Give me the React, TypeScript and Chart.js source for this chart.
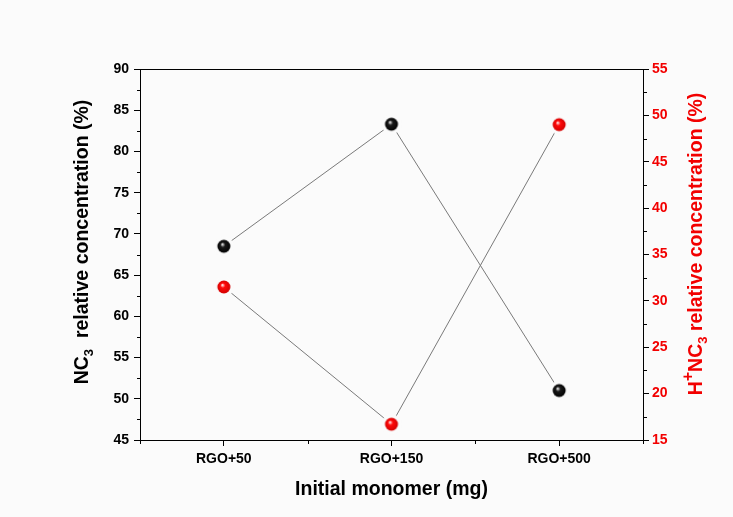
import React, { useEffect, useRef } from "react";
import { Chart, registerables } from "chart.js";

Chart.register(...registerables);

// Samples and measured relative concentrations
const categories = ["RGO+50", "RGO+150", "RGO+500"];
const nc3Values = [68.5, 83.3, 51.0];
const hnc3Values = [31.5, 16.7, 49.0];

// Axis ranges and tick steps
const leftRange = [45, 90];
const rightRange = [15, 55];
const majorStep = 5;

const FONT = "'Liberation Sans', Arial, Helvetica, sans-serif";
const BG = "#fbfbfb";
const RED = "#f20000";
const TITLE_SIZE = 19.5;

// Glossy sphere marker with a halo that matches the background
function makeSphere(base: string, mid: string, hi: string): HTMLCanvasElement {
  const size = 22;
  const c = document.createElement("canvas");
  c.width = size;
  c.height = size;
  const g = c.getContext("2d")!;
  const cx = size / 2;
  const cy = size / 2;
  g.fillStyle = BG;
  g.beginPath();
  g.arc(cx, cy, 10, 0, Math.PI * 2);
  g.fill();
  const grad = g.createRadialGradient(cx - 1.5, cy - 2, 0.5, cx, cy, 6.8);
  grad.addColorStop(0, hi);
  grad.addColorStop(0.3, mid);
  grad.addColorStop(1, base);
  g.fillStyle = grad;
  g.beginPath();
  g.arc(cx, cy, 6.5, 0, Math.PI * 2);
  g.fill();
  return c;
}

type Seg = { t: string; size: number; shift: number };

function drawRotatedRich(ctx: CanvasRenderingContext2D, segs: Seg[], cx: number, cy: number, color: string) {
  ctx.save();
  ctx.translate(cx, cy);
  ctx.rotate(-Math.PI / 2);
  ctx.fillStyle = color;
  ctx.textBaseline = "alphabetic";
  ctx.textAlign = "left";
  const widths = segs.map((s) => {
    ctx.font = `bold ${s.size}px ${FONT}`;
    return ctx.measureText(s.t).width;
  });
  const total = widths.reduce((a, b) => a + b, 0);
  let x = -total / 2;
  segs.forEach((s, i) => {
    ctx.font = `bold ${s.size}px ${FONT}`;
    ctx.fillText(s.t, x, 7 + s.shift);
    x += widths[i];
  });
  ctx.restore();
}

const decorPlugin = {
  id: "decor",
  beforeDraw(chart: any) {
    const ctx = chart.ctx;
    ctx.save();
    ctx.fillStyle = BG;
    ctx.fillRect(0, 0, chart.width, chart.height);
    ctx.restore();
  },
  afterDraw(chart: any) {
    const ctx: CanvasRenderingContext2D = chart.ctx;
    const area = chart.chartArea;
    const y = chart.scales.y;
    const y1 = chart.scales.y1;
    const x = chart.scales.x;
    ctx.save();
    ctx.strokeStyle = "#000";
    ctx.lineWidth = 1;
    // frame top
    ctx.beginPath();
    ctx.moveTo(Math.round(area.left), Math.round(area.top) + 0.5);
    ctx.lineTo(Math.round(area.right) + 1, Math.round(area.top) + 0.5);
    ctx.stroke();
    // minor ticks
    ctx.beginPath();
    for (let v = leftRange[0] + majorStep / 2; v < leftRange[1]; v += majorStep) {
      const p = Math.round(y.getPixelForValue(v)) + 0.5;
      ctx.moveTo(area.left - 3, p);
      ctx.lineTo(area.left, p);
    }
    for (let v = rightRange[0] + majorStep / 2; v < rightRange[1]; v += majorStep) {
      const p = Math.round(y1.getPixelForValue(v)) + 0.5;
      ctx.moveTo(area.right, p);
      ctx.lineTo(area.right + 4, p);
    }
    for (let i = -0.5; i <= categories.length - 0.5; i += 1) {
      const p = Math.round(x.getPixelForValue(i)) + 0.5;
      ctx.moveTo(p, area.bottom);
      ctx.lineTo(p, area.bottom + 4);
    }
    ctx.stroke();
    ctx.restore();

    // axis titles
    ctx.save();
    ctx.fillStyle = "#000";
    ctx.font = `bold ${TITLE_SIZE}px ${FONT}`;
    ctx.textAlign = "center";
    ctx.textBaseline = "middle";
    ctx.fillText("Initial monomer (mg)", (area.left + area.right) / 2, 490);
    ctx.restore();

    drawRotatedRich(
      ctx,
      [
        { t: "NC", size: TITLE_SIZE, shift: 0 },
        { t: "3", size: 13, shift: 5 },
        { t: "  relative concentration (%)", size: TITLE_SIZE, shift: 0 },
      ],
      81,
      242,
      "#000"
    );
    drawRotatedRich(
      ctx,
      [
        { t: "H", size: TITLE_SIZE, shift: 0 },
        { t: "+", size: 16, shift: -9 },
        { t: "NC", size: TITLE_SIZE, shift: 0 },
        { t: "3", size: 13, shift: 5 },
        { t: " relative concentration (%)", size: TITLE_SIZE, shift: 0 },
      ],
      695,
      244,
      RED
    );
  },
};

export default function App() {
  const ref = useRef<HTMLCanvasElement | null>(null);

  useEffect(() => {
    if (!ref.current) return;
    const blackBall = makeSphere("#000000", "#1a1a1a", "#d8d8d8");
    const redBall = makeSphere("#d00000", "#ff0a0a", "#ffd6d6");

    const tickFont = { family: FONT, size: 14, weight: "bold" as const };

    const chart = new Chart(ref.current, {
      type: "line",
      data: {
        labels: categories,
        datasets: [
          {
            label: "NC3",
            data: nc3Values,
            yAxisID: "y",
            borderColor: "#7a7a7a",
            borderWidth: 1,
            pointStyle: blackBall,
            tension: 0,
            fill: false,
          },
          {
            label: "H+NC3",
            data: hnc3Values,
            yAxisID: "y1",
            borderColor: "#7a7a7a",
            borderWidth: 1,
            pointStyle: redBall,
            tension: 0,
            fill: false,
          },
        ],
      },
      options: {
        responsive: false,
        animation: false,
        devicePixelRatio: 1,
        events: [],
        layout: { padding: { top: 69, left: 0, right: 0, bottom: 0 } },
        plugins: { legend: { display: false }, tooltip: { enabled: false }, title: { display: false } },
        scales: {
          x: {
            type: "category",
            offset: true,
            grid: { offset: false, drawOnChartArea: false, drawTicks: true, tickLength: 6, color: "#000" },
            border: { display: true, color: "#000", width: 1 },
            ticks: { color: "#000", font: tickFont, padding: 5, maxRotation: 0, autoSkip: false },
            afterFit: (s: any) => {
              s.height = 77;
            },
          },
          y: {
            type: "linear",
            position: "left",
            min: leftRange[0],
            max: leftRange[1],
            ticks: { stepSize: majorStep, color: "#000", font: tickFont, padding: 5 },
            grid: { drawOnChartArea: false, drawTicks: true, tickLength: 6, color: "#000" },
            border: { display: true, color: "#000", width: 1 },
            afterFit: (s: any) => {
              s.width = 140;
            },
          },
          y1: {
            type: "linear",
            position: "right",
            min: rightRange[0],
            max: rightRange[1],
            ticks: { stepSize: majorStep, color: RED, font: tickFont, padding: 3 },
            grid: { drawOnChartArea: false, drawTicks: true, tickLength: 6, color: "#000" },
            border: { display: true, color: "#000", width: 1 },
            afterFit: (s: any) => {
              s.width = 90;
            },
          },
        },
      },
      plugins: [decorPlugin],
    });
    return () => chart.destroy();
  }, []);

  return (
    <div style={{ position: "absolute", left: 0, top: 0, width: 733, height: 517 }}>
      <canvas ref={ref} width={733} height={517} style={{ display: "block" }} />
    </div>
  );
}
